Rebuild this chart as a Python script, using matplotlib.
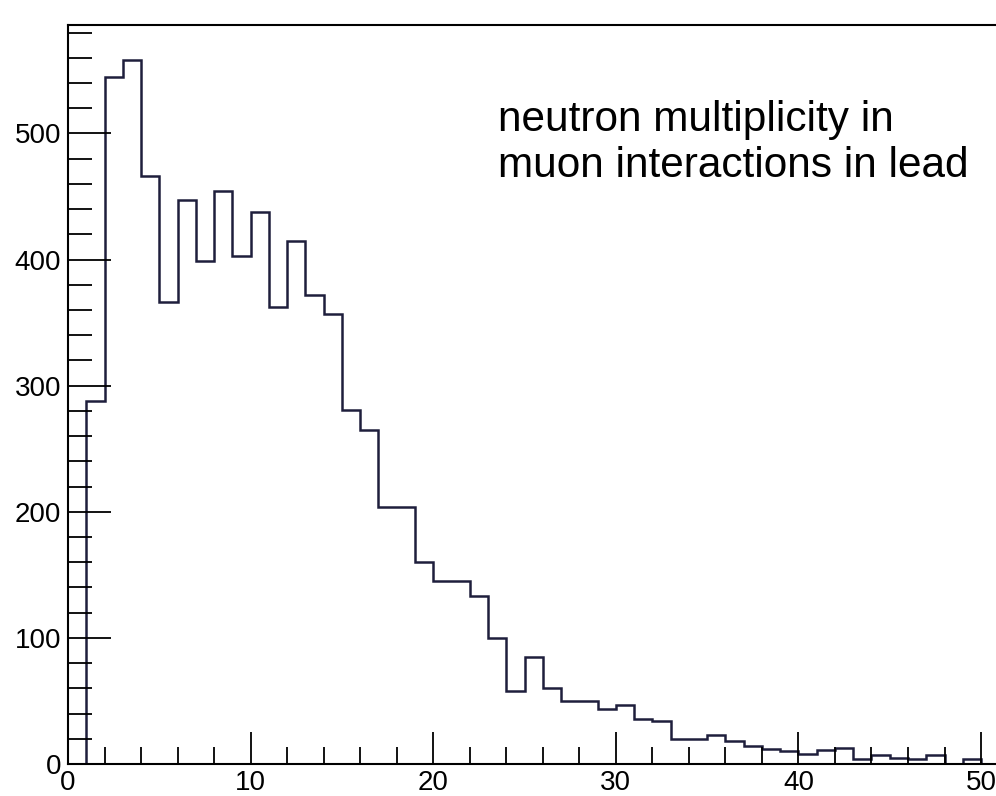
import numpy as np
import matplotlib.pyplot as plt
from matplotlib.ticker import MultipleLocator

# neutron multiplicity histogram, unit-width bins from 0 to 50
bin_edges = np.arange(0, 51)
counts = [0, 288, 545, 558, 466, 366, 447, 399, 454, 403,
          438, 362, 415, 372, 357, 281, 265, 204, 204, 160,
          145, 145, 133, 100, 58, 85, 60, 50, 50, 44,
          47, 36, 34, 20, 20, 23, 18, 14, 12, 10,
          8, 11, 13, 4, 7, 5, 4, 7, 0, 4]
x_ticks = [0, 10, 20, 30, 40, 50]
y_ticks = [0, 100, 200, 300, 400, 500]

plt.rcParams['font.family'] = ['Liberation Sans', 'DejaVu Sans']

fig = plt.figure(figsize=(9.96, 7.96), dpi=100)
ax = fig.add_axes([68 / 996, 32 / 796, 1 - 68 / 996, 739 / 796])

ax.stairs(counts, bin_edges, color='#1e1e3c', linewidth=1.8, baseline=0)

ax.set_xlim(0, 50.82)
ax.set_ylim(0, 586)
ax.set_xticks(x_ticks)
ax.set_yticks(y_ticks)
ax.xaxis.set_minor_locator(MultipleLocator(2))
ax.yaxis.set_minor_locator(MultipleLocator(20))

ax.tick_params(axis='x', which='major', direction='in', length=23, width=1.3,
               labelsize=20, pad=4)
ax.tick_params(axis='x', which='minor', direction='in', length=12, width=1.3)
ax.tick_params(axis='y', which='major', direction='in', length=31, width=1.3,
               labelsize=20, pad=5)
ax.tick_params(axis='y', which='minor', direction='in', length=17, width=1.3)

for side in ['left', 'bottom', 'top']:
    ax.spines[side].set_linewidth(1.5)
ax.spines['right'].set_visible(False)

ax.text(0.4634, 0.7815, "neutron multiplicity in\nmuon interactions in lead",
        transform=ax.transAxes, fontsize=30.5, ha='left', va='bottom',
        linespacing=1.2)

plt.savefig('out.png', dpi=100)
